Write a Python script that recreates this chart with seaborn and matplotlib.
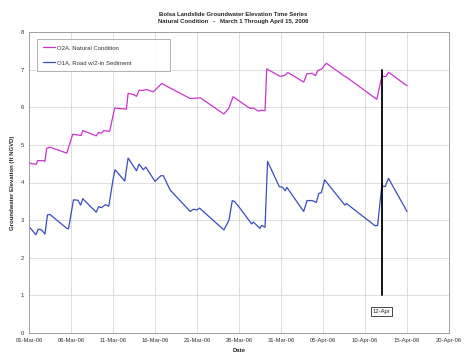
import matplotlib
matplotlib.use("Agg")
import matplotlib.pyplot as plt
import matplotlib.dates as mdates
from matplotlib.lines import Line2D
import numpy as np
import pandas as pd
import seaborn as sns

# ---- data (days after 01-Mar-2006, elevation ft NGVD) ----
o2a_days = [0, 0.3, 0.9, 1.0, 1.7, 1.9, 2.1, 2.5, 4.5, 5.2, 5.9, 6.2, 6.4, 8.0, 8.3, 8.6, 8.9, 9.6,
            10.2, 10.6, 11.6, 11.8, 12.4, 12.8, 13.1, 13.6, 14.0, 14.8, 15.8, 19.2, 19.7, 20.4,
            23.2, 23.8, 24.3, 26.3, 26.7, 27.3, 27.7, 28.1, 28.3, 29.9, 30.4, 30.8, 31.3,
            32.7, 33.1, 33.7, 34.1, 34.4, 34.8, 35.4, 37.6, 37.8, 41.4, 42.0, 42.5, 42.8, 45.0]
o2a_vals = [4.53, 4.50, 4.49, 4.58, 4.58, 4.56, 4.91, 4.94, 4.78, 5.28, 5.26, 5.25, 5.38, 5.24, 5.33, 5.31, 5.38, 5.36,
            5.98, 5.97, 5.95, 6.37, 6.34, 6.29, 6.45, 6.45, 6.47, 6.41, 6.63, 6.23, 6.24, 6.25,
            5.82, 5.98, 6.28, 5.97, 5.98, 5.90, 5.92, 5.91, 7.02, 6.82, 6.84, 6.92, 6.86,
            6.67, 6.89, 6.90, 6.84, 6.98, 7.01, 7.17, 6.82, 6.80, 6.21, 6.82, 6.82, 6.93, 6.57]

o1a_days = [0, 0.83, 1.1, 1.5, 1.9, 2.2, 2.5, 4.5, 4.7, 5.3, 5.8, 6.15, 6.4, 8.0, 8.3, 8.6, 9.1, 9.5,
            10.0, 10.24, 11.4, 11.8, 12.8, 13.1, 13.6, 13.9, 15.0, 15.7, 16.0, 16.8, 19.2, 19.6, 20.0, 20.3,
            23.2, 23.8, 24.2, 24.5, 25.1, 26.5, 26.7, 27.5, 27.7, 28.1, 28.4, 29.8, 30.2, 30.5, 30.7,
            32.7, 33.1, 33.7, 34.2, 34.5, 34.8, 35.2, 37.6, 37.8, 41.2, 41.5, 42.0, 42.4, 42.8, 45.0]
o1a_vals = [2.83, 2.61, 2.76, 2.74, 2.63, 3.14, 3.15, 2.78, 2.77, 3.54, 3.53, 3.40, 3.57, 3.21, 3.36, 3.33, 3.41, 3.37,
            4.07, 4.34, 4.04, 4.65, 4.31, 4.49, 4.34, 4.41, 4.03, 4.18, 4.18, 3.80, 3.23, 3.29, 3.27, 3.32,
            2.74, 2.99, 3.52, 3.49, 3.32, 2.90, 2.95, 2.78, 2.86, 2.81, 4.56, 3.89, 3.87, 3.78, 3.87,
            3.23, 3.52, 3.52, 3.47, 3.71, 3.73, 4.07, 3.40, 3.44, 2.85, 2.86, 3.91, 3.89, 4.11, 3.23]

series_names = ["O2A, Natural Condition", "O1A, Road w/2-in Sediment"]
series_colors = ["#CC33CC", "#3A4CC0"]
marker_date = "2006-04-12"
marker_label = "12-Apr"
marker_range = [1, 7]
y_ticks = [0, 1, 2, 3, 4, 5, 6, 7, 8]
title_lines = ["Bolsa Landslide Groundwater Elevation Time Series",
               "Natural Condition   -   March 1 Through April 15, 2006"]

start = pd.Timestamp("2006-03-01")
df = pd.concat([
    pd.DataFrame({"Date": start + pd.to_timedelta(o2a_days, unit="D"),
                  "Elevation": o2a_vals, "Series": series_names[0]}),
    pd.DataFrame({"Date": start + pd.to_timedelta(o1a_days, unit="D"),
                  "Elevation": o1a_vals, "Series": series_names[1]}),
], ignore_index=True)

sns.set_style("white")
plt.rcParams["font.family"] = ["Liberation Sans", "DejaVu Sans"]

fig = plt.figure(figsize=(4.66, 3.6), dpi=100)
ax = fig.add_axes([29 / 466, 1 - 333 / 360, 420 / 466, 301 / 360])

sns.lineplot(data=df, x="Date", y="Elevation", hue="Series", hue_order=series_names,
             palette=series_colors, sort=False, estimator=None, linewidth=0.9, ax=ax, legend=False)

md = pd.Timestamp(marker_date)
ax.plot([md, md], marker_range, color="black", linewidth=1.3, zorder=5)
ax.text(md, 0.57, marker_label, ha="center", va="center", fontsize=4.2,
        bbox=dict(boxstyle="square,pad=0.3", facecolor="white", edgecolor="black", linewidth=0.5))

xt = pd.date_range("2006-03-01", "2006-04-20", freq="5D")
ax.set_xlim(xt[0], xt[-1])
ax.set_xticks(xt)
ax.xaxis.set_major_formatter(mdates.DateFormatter("%d-%b-%y"))
ax.set_ylim(0, 8)
ax.set_yticks(y_ticks)
ax.grid(True, color="#D8D8D8", linewidth=0.6)
ax.set_axisbelow(True)
for s in ax.spines.values():
    s.set_color("#A0A0A0")
    s.set_linewidth(0.7)
ax.tick_params(axis="both", labelsize=4.2, colors="#A0A0A0", labelcolor="#333333",
               length=2, width=0.5, pad=1.5)
ax.set_xlabel("Date", fontsize=4.3, fontweight="bold", labelpad=4)
ax.set_ylabel("Groundwater Elevation (ft NGVD)", fontsize=4.3, fontweight="bold", labelpad=4)

fig.text(233 / 466, 1 - 15 / 360, title_lines[0], ha="center", va="center", fontsize=4.3, fontweight="bold")
fig.text(233 / 466, 1 - 22 / 360, title_lines[1], ha="center", va="center", fontsize=4.3, fontweight="bold")

handles = [Line2D([], [], color=c, linewidth=0.9) for c in series_colors]
leg = ax.legend(handles, series_names, loc="upper left",
                bbox_to_anchor=(8 / 420, (333 - 72) / 301, 133 / 420, 33 / 301),
                mode="expand", fontsize=4.3, frameon=True, fancybox=False,
                handlelength=2.0, handletextpad=0.3, labelspacing=1.6, borderpad=1.0,
                borderaxespad=0)
leg.get_frame().set_edgecolor("#909090")
leg.get_frame().set_linewidth(0.6)
for t in leg.get_texts():
    t.set_color("#333333")

fig.savefig("out.png", dpi=100)
